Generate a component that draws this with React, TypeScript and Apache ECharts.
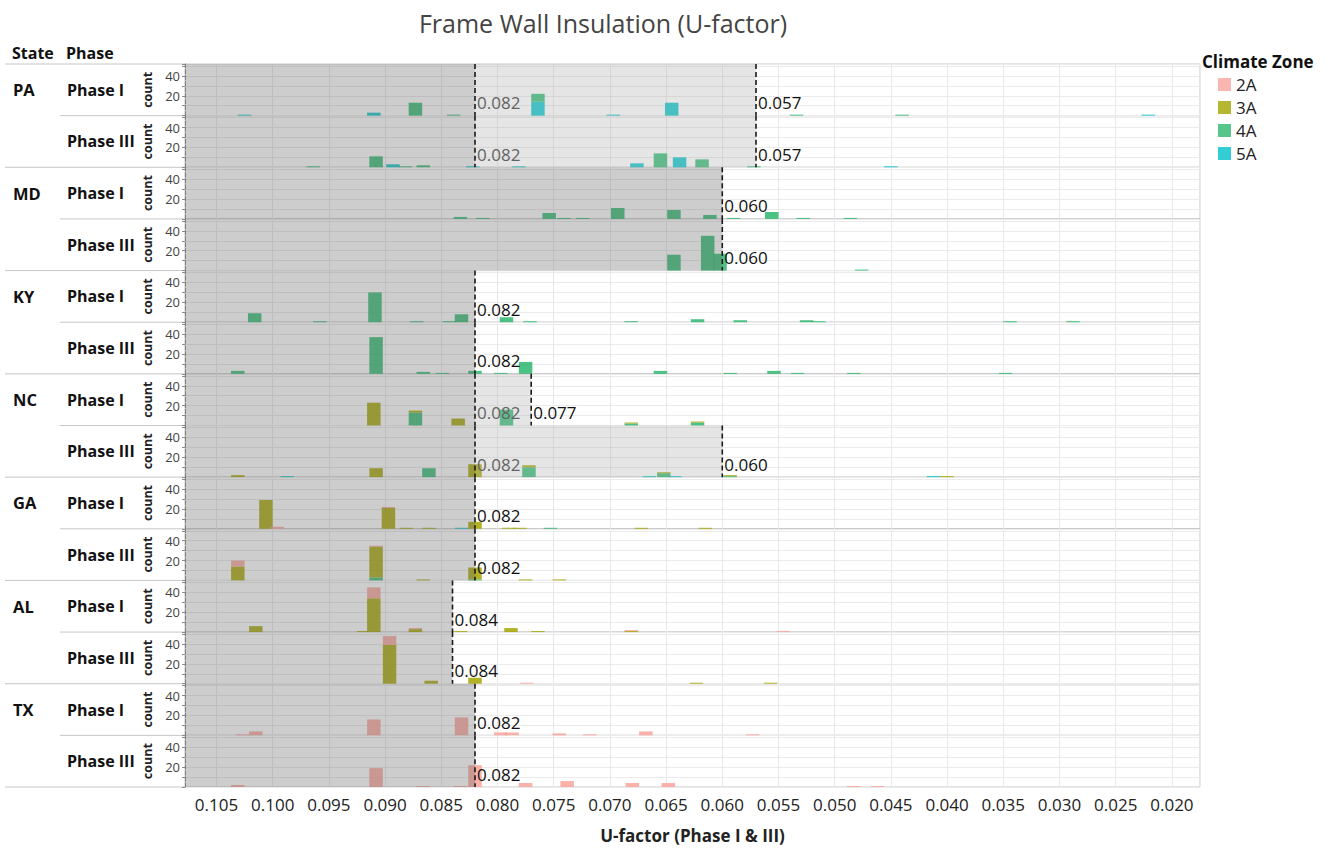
import React, { useEffect, useRef } from 'react';
import * as echarts from 'echarts';

// ---------------- data ----------------
const STATES = ['PA', 'MD', 'KY', 'NC', 'GA', 'AL', 'TX'];
const PHASES = ['Phase I', 'Phase III'];
const ZONES = ['2A', '3A', '4A', '5A'];
const ZONE_COLORS = ['#F8A39B', '#A3A500', '#2DB86E', '#00C2C8'];
const X_TICK_STEP = 0.005;
const BIN_WIDTH = 0.0012;

// each row: [U-factor bin centre, count 2A, count 3A, count 4A, count 5A]
const PA_PHASE_I = [
  [0.1025, 0, 0, 0, 1], [0.091, 0, 0, 0, 3], [0.0873, 0, 0, 13, 0], [0.0839, 0, 0, 1, 0],
  [0.0764, 0, 0, 8, 14], [0.0697, 0, 0, 0, 1], [0.0645, 0, 0, 0, 13], [0.0534, 0, 0, 1, 0],
  [0.044, 0, 0, 1, 0], [0.0221, 0, 0, 0, 1],
];
const PA_PHASE_III = [
  [0.0964, 0, 0, 1, 0], [0.0908, 0, 0, 11, 0], [0.0893, 0, 0, 0, 3], [0.0882, 0, 0, 1, 0],
  [0.0866, 0, 0, 2, 0], [0.0822, 0, 0, 0, 1], [0.0781, 0, 0, 0, 1], [0.0676, 0, 0, 0, 4],
  [0.0655, 0, 0, 14, 0], [0.0638, 0, 0, 0, 10], [0.0618, 0, 0, 8, 0], [0.0572, 0, 0, 1, 0],
  [0.045, 0, 0, 0, 1],
];
const MD_PHASE_I = [
  [0.0833, 0, 0, 2, 0], [0.0813, 0, 0, 1, 0], [0.0754, 0, 0, 6, 0], [0.0741, 0, 0, 1, 0],
  [0.0724, 0, 0, 1, 0], [0.0693, 0, 0, 11, 0], [0.0643, 0, 0, 9, 0], [0.0611, 0, 0, 4, 0],
  [0.059, 0, 0, 1, 0], [0.0556, 0, 0, 7, 0], [0.0528, 0, 0, 1, 0], [0.0486, 0, 0, 1, 0],
];
const MD_PHASE_III = [
  [0.0643, 0, 0, 16, 0], [0.0613, 0, 0, 35, 0], [0.0602, 0, 0, 17, 0], [0.0476, 0, 0, 1, 0],
];
const KY_PHASE_I = [
  [0.1016, 0, 0, 9, 0], [0.0958, 0, 0, 1, 0], [0.0909, 0, 0, 30, 0], [0.0872, 0, 0, 1, 0],
  [0.0843, 0, 0, 1, 0], [0.0832, 0, 0, 8, 0], [0.0792, 0, 0, 5, 0], [0.0771, 0, 0, 1, 0],
  [0.0681, 0, 0, 1, 0], [0.0622, 0, 0, 3, 0], [0.0584, 0, 0, 2, 0], [0.0525, 0, 0, 2, 0],
  [0.0514, 0, 0, 1, 0], [0.0344, 0, 0, 1, 0], [0.0288, 0, 0, 1, 0],
];
const KY_PHASE_III = [
  [0.1031, 0, 0, 3, 0], [0.0908, 0, 0, 37, 0], [0.0866, 0, 0, 2, 0], [0.0849, 0, 0, 1, 0],
  [0.082, 0, 0, 3, 0], [0.0797, 0, 0, 1, 0], [0.0775, 0, 0, 12, 0], [0.0655, 0, 0, 3, 0],
  [0.0593, 0, 0, 1, 0], [0.0554, 0, 0, 3, 0], [0.0533, 0, 0, 1, 0], [0.0483, 0, 0, 1, 0],
  [0.0348, 0, 0, 1, 0],
];
const NC_PHASE_I = [
  [0.091, 0, 23, 0, 0], [0.0873, 0, 2, 13, 0], [0.0835, 0, 7, 0, 0], [0.0792, 0, 0, 16, 0],
  [0.0681, 0, 1, 2, 0], [0.0622, 0, 1, 3, 0],
];
const NC_PHASE_III = [
  [0.1031, 0, 2, 0, 0], [0.0987, 0, 0, 0, 1], [0.0908, 0, 9, 0, 0], [0.0861, 0, 0, 9, 0],
  [0.082, 0, 13, 0, 0], [0.0772, 0, 2, 10, 0], [0.0665, 0, 0, 0, 1], [0.0652, 0, 1, 4, 0],
  [0.0642, 0, 0, 0, 1], [0.0593, 0, 1, 1, 0], [0.0412, 0, 0, 0, 1], [0.04, 0, 1, 0, 0],
];
const GA_PHASE_I = [
  [0.1006, 0, 29, 0, 0], [0.0996, 2, 0, 0, 0], [0.0897, 1, 21, 0, 0], [0.0881, 0, 1, 0, 0],
  [0.0861, 0, 1, 0, 0], [0.0832, 0, 0, 0, 1], [0.082, 0, 7, 0, 0], [0.079, 0, 1, 0, 0],
  [0.078, 0, 1, 0, 0], [0.0753, 0, 0, 1, 0], [0.0672, 0, 1, 0, 0], [0.0615, 0, 1, 0, 0],
];
const GA_PHASE_III = [
  [0.1031, 6, 14, 0, 0], [0.0908, 1, 31, 3, 0], [0.0866, 0, 1, 0, 0], [0.082, 0, 12, 1, 0],
  [0.0775, 0, 1, 0, 0], [0.0745, 0, 1, 0, 0],
];
const AL_PHASE_I = [
  [0.1015, 0, 6, 0, 0], [0.0919, 0, 1, 0, 0], [0.091, 11, 34, 0, 0], [0.0873, 1, 3, 0, 0],
  [0.0833, 0, 1, 0, 0], [0.0788, 0, 4, 0, 0], [0.0764, 0, 1, 0, 0], [0.0681, 1, 1, 0, 0],
  [0.0546, 1, 0, 0, 0],
];
const AL_PHASE_III = [
  [0.0896, 9, 39, 0, 0], [0.0859, 0, 3, 0, 0], [0.082, 0, 6, 0, 0], [0.0774, 1, 0, 0, 0],
  [0.0623, 0, 1, 0, 0], [0.0557, 0, 1, 0, 0],
];
const TX_PHASE_I = [
  [0.1027, 1, 0, 0, 0], [0.1015, 4, 0, 0, 0], [0.091, 16, 0, 0, 0], [0.0832, 18, 0, 0, 0],
  [0.0797, 3, 0, 0, 0], [0.0787, 3, 0, 0, 0], [0.0745, 2, 0, 0, 0], [0.0718, 1, 0, 0, 0],
  [0.0668, 4, 0, 0, 0], [0.0573, 1, 0, 0, 0],
];
const TX_PHASE_III = [
  [0.1031, 2, 0, 0, 0], [0.0908, 19, 0, 0, 0], [0.0866, 1, 0, 0, 0], [0.0833, 1, 0, 0, 0],
  [0.082, 22, 0, 0, 0], [0.0775, 4, 0, 0, 0], [0.0738, 6, 0, 0, 0], [0.068, 4, 0, 0, 0],
  [0.0648, 4, 0, 0, 0], [0.0483, 1, 0, 0, 0], [0.0462, 1, 0, 0, 0],
];

// code requirement (dashed line) per panel, and second threshold (0 = none)
const CODE_LIMITS = [0.082, 0.082, 0.06, 0.06, 0.082, 0.082, 0.082, 0.082, 0.082, 0.082, 0.084, 0.084, 0.082, 0.082];
const SECOND_LIMITS = [0.057, 0.057, 0, 0, 0, 0, 0.077, 0.06, 0, 0, 0, 0, 0, 0];

const PANELS = [
  PA_PHASE_I, PA_PHASE_III, MD_PHASE_I, MD_PHASE_III, KY_PHASE_I, KY_PHASE_III, NC_PHASE_I,
  NC_PHASE_III, GA_PHASE_I, GA_PHASE_III, AL_PHASE_I, AL_PHASE_III, TX_PHASE_I, TX_PHASE_III,
];

// ---------------- layout ----------------
const FONT = '"Open Sans", "Noto Sans", sans-serif';
const PLOT_LEFT = 185;
const PLOT_WIDTH = 1015;
const PLOT_TOP = 64;
const PLOT_BOTTOM = 787;
const ROW_H = (PLOT_BOTTOM - PLOT_TOP) / PANELS.length;
const X_MIN = 0.0175;
const X_MAX = 0.1078;
const Y_MAX = 52;

function stackPanel(rows: number[][]) {
  const out: number[][] = [];
  rows.forEach((row) => {
    let base = 0;
    for (let z = 3; z >= 0; z--) {
      const n = row[1 + z];
      if (n > 0) {
        out.push([row[0], base, base + n, z]);
        base += n;
      }
    }
  });
  return out;
}

function isTick(v: number) {
  const k = v / X_TICK_STEP;
  return Math.abs(k - Math.round(k)) < 1e-6;
}

function buildOption() {
  const grids: any[] = [];
  const xAxes: any[] = [];
  const yAxes: any[] = [];
  const series: any[] = [];
  const n = PANELS.length;

  PANELS.forEach((panel, i) => {
    const last = i === n - 1;
    grids.push({
      left: PLOT_LEFT,
      top: PLOT_TOP + i * ROW_H,
      width: PLOT_WIDTH,
      height: ROW_H,
      show: true,
      borderColor: '#c6c6c6',
      borderWidth: 1,
      backgroundColor: 'transparent',
    });
    xAxes.push({
      type: 'value',
      gridIndex: i,
      inverse: true,
      min: X_MIN,
      max: X_MAX,
      splitNumber: 18,
      axisLine: { show: false },
      axisTick: { show: false },
      axisLabel: {
        show: last,
        margin: 9,
        fontSize: 17,
        color: '#222',
        fontFamily: FONT,
        formatter: (v: number) => (isTick(v) ? v.toFixed(3) : ''),
      },
      splitLine: { show: true, lineStyle: { color: '#e9e9e9', width: 1 } },
      name: last ? 'U-factor (Phase I & III)' : '',
      nameLocation: 'middle',
      nameGap: 40,
      nameTextStyle: { fontWeight: 'bold', fontSize: 17, color: '#222', fontFamily: FONT },
    });
    yAxes.push({
      type: 'value',
      gridIndex: i,
      min: 0,
      max: Y_MAX,
      interval: 10,
      axisLine: { show: true, lineStyle: { color: '#8a8a8a', type: 'dashed' } },
      axisTick: { show: true, length: 3, lineStyle: { color: '#8a8a8a' } },
      axisLabel: {
        fontSize: 13,
        color: '#444',
        margin: 5,
        fontFamily: FONT,
        formatter: (v: number) => (v === 20 || v === 40 ? String(v) : ''),
      },
      splitLine: { show: true, lineStyle: { color: '#ebebeb', width: 1 } },
      name: 'count',
      nameLocation: 'middle',
      nameRotate: 90,
      nameGap: 22,
      nameTextStyle: { fontWeight: 'bold', fontSize: 12.5, color: '#222', fontFamily: FONT },
    });

    series.push({
      type: 'custom',
      xAxisIndex: i,
      yAxisIndex: i,
      silent: true,
      z: 2,
      encode: { x: 0, y: [1, 2] },
      data: stackPanel(panel),
      renderItem: (params: any, api: any) => {
        const u = api.value(0);
        const y0 = api.value(1);
        const y1 = api.value(2);
        const z = api.value(3);
        const a = api.coord([u + BIN_WIDTH / 2, y1]);
        const b = api.coord([u - BIN_WIDTH / 2, y0]);
        return {
          type: 'rect',
          shape: {
            x: Math.min(a[0], b[0]),
            y: Math.min(a[1], b[1]),
            width: Math.abs(b[0] - a[0]),
            height: Math.max(1, Math.abs(b[1] - a[1])),
          },
          style: { fill: ZONE_COLORS[z], opacity: 0.85 },
        };
      },
    });

    series.push({
      type: 'custom',
      xAxisIndex: i,
      yAxisIndex: i,
      silent: true,
      z: 4,
      encode: { x: 0, y: 2 },
      data: [[CODE_LIMITS[i], SECOND_LIMITS[i], 0]],
      renderItem: (params: any, api: any) => {
        const code = api.value(0);
        const second = api.value(1);
        const cs = params.coordSys;
        const top = cs.y;
        const bottom = cs.y + cs.height;
        const cx = api.coord([code, 0])[0];
        const hasSecond = second > 0;
        const sx = hasSecond ? api.coord([second, 0])[0] : cx;
        const labelY = bottom - 13;
        const children: any[] = [];
        children.push({
          type: 'text',
          x: cx + 2,
          y: labelY,
          style: {
            text: code.toFixed(3),
            fill: hasSecond ? '#4a4a4a' : '#111',
            fontSize: 17,
            fontFamily: FONT,
            align: 'left',
            verticalAlign: 'middle',
          },
        });
        if (hasSecond) {
          children.push({
            type: 'text',
            x: sx + 2,
            y: labelY,
            style: {
              text: second.toFixed(3),
              fill: '#111',
              fontSize: 17,
              fontFamily: FONT,
              align: 'left',
              verticalAlign: 'middle',
            },
          });
        }
        children.push({
          type: 'rect',
          shape: { x: cs.x, y: top, width: cx - cs.x, height: cs.height },
          style: { fill: 'rgba(100,100,100,0.32)' },
        });
        if (hasSecond) {
          children.push({
            type: 'rect',
            shape: { x: cx, y: top, width: sx - cx, height: cs.height },
            style: { fill: 'rgba(160,160,160,0.28)' },
          });
        }
        const lines = hasSecond ? [cx, sx] : [cx];
        lines.forEach((lx) => {
          children.push({
            type: 'line',
            shape: { x1: lx, y1: top, x2: lx, y2: bottom },
            style: { stroke: '#1a1a1a', lineWidth: 1.6, lineDash: [5, 3] },
          });
        });
        return { type: 'group', children };
      },
    });
  });

  ZONES.forEach((zone, k) => {
    series.push({
      type: 'scatter',
      name: zone,
      xAxisIndex: 0,
      yAxisIndex: 0,
      data: [],
      itemStyle: { color: ZONE_COLORS[k] },
    });
  });

  const graphic: any[] = [];
  graphic.push({
    type: 'text',
    x: 603,
    y: 23,
    style: {
      text: 'Frame Wall Insulation (U-factor)',
      fill: '#444',
      fontSize: 25,
      fontFamily: FONT,
      align: 'center',
      verticalAlign: 'middle',
    },
  });
  const headStyle = { fill: '#111', fontSize: 16, fontWeight: 'bold', fontFamily: FONT, align: 'left', verticalAlign: 'middle' };
  graphic.push({ type: 'text', x: 12, y: 53, style: { ...headStyle, text: 'State' } });
  graphic.push({ type: 'text', x: 66, y: 53, style: { ...headStyle, text: 'Phase' } });
  graphic.push({
    type: 'text',
    x: 1202,
    y: 61,
    style: { ...headStyle, text: 'Climate Zone', fontSize: 17 },
  });

  for (let r = 0; r <= n; r++) {
    const y = PLOT_TOP + r * ROW_H;
    const stateBoundary = r % 2 === 0;
    graphic.push({
      type: 'line',
      shape: { x1: stateBoundary ? 5 : 60, y1: y, x2: PLOT_LEFT, y2: y },
      style: { stroke: '#c6c6c6', lineWidth: 1 },
    });
  }
  STATES.forEach((s, k) => {
    graphic.push({
      type: 'text',
      x: 13,
      y: PLOT_TOP + 2 * k * ROW_H + ROW_H / 2,
      style: { ...headStyle, text: s, fontSize: 16.5 },
    });
    PHASES.forEach((p, j) => {
      graphic.push({
        type: 'text',
        x: 67,
        y: PLOT_TOP + (2 * k + j) * ROW_H + ROW_H / 2,
        style: { ...headStyle, text: p, fontSize: 16 },
      });
    });
  });

  return {
    animation: false,
    backgroundColor: '#fff',
    grid: grids,
    xAxis: xAxes,
    yAxis: yAxes,
    series,
    graphic,
    legend: {
      data: ZONES,
      orient: 'vertical',
      left: 1213,
      top: 71,
      icon: 'rect',
      itemWidth: 13,
      itemHeight: 13,
      itemGap: 6,
      selectedMode: false,
      textStyle: { fontSize: 17, color: '#222', fontFamily: FONT },
    },
  };
}

export default function App() {
  const ref = useRef<HTMLDivElement>(null);
  useEffect(() => {
    if (!ref.current) return;
    const chart = echarts.init(ref.current, undefined, { renderer: 'svg' });
    chart.setOption(buildOption() as any);
    return () => chart.dispose();
  }, []);
  return (
    <div
      ref={ref}
      style={{ position: 'fixed', left: 0, top: 0, width: 1333, height: 848, background: '#fff' }}
    />
  );
}
